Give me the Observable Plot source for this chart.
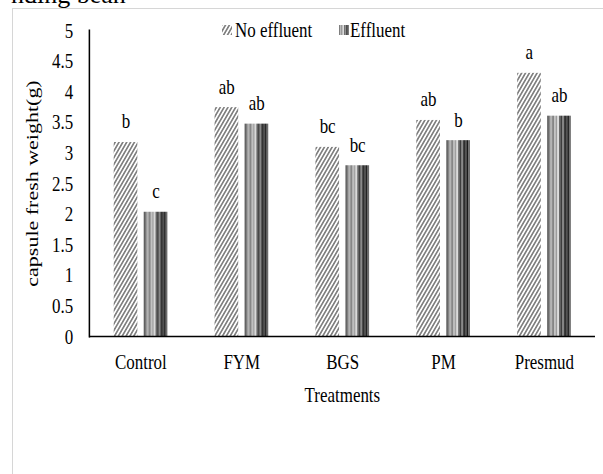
<!DOCTYPE html>
<html>
<head>
<meta charset="utf-8">
<script src="https://cdn.jsdelivr.net/npm/d3@7"></script>
<script src="https://cdn.jsdelivr.net/npm/@observablehq/plot@0.6"></script>
<style>
  html, body { margin: 0; padding: 0; background: #fff; overflow: hidden; }
  #wrap { position: relative; width: 603px; height: 474px; overflow: hidden; background: #fff; }
  #frame { position: absolute; left: 12px; top: 8px; width: 800px; height: 700px; border: 1.5px solid #d6d6d6; box-sizing: border-box; }
  #topcut { position: absolute; left: 0; top: 0; }
  #inner { position: absolute; left: 0; top: 0; height: 474px; transform-origin: 0 0; }
  #chart { position: absolute; left: 0; top: 0; }
  #legend { position: absolute; left: 0; top: 0; }
</style>
</head>
<body>
<div id="wrap">
  <div id="frame"></div>
  <svg id="topcut" width="603" height="20"><text x="11" y="3" font-family="'Liberation Serif', serif" font-size="26" fill="#000">nding bean</text></svg>
  <div id="inner">
    <div id="chart"></div>
    <svg id="legend" height="50"></svg>
  </div>
</div>
<script>
// ---- data ----
const categories = ["Control", "FYM", "BGS", "PM", "Presmud"];
const noEffluent = [3.17, 3.74, 3.09, 3.53, 4.30];
const effluent = [2.03, 3.47, 2.79, 3.20, 3.60];
const noEffluentLetters = ["b", "ab", "bc", "ab", "a"];
const effluentLetters = ["c", "ab", "bc", "b", "ab"];
const yTicks = [0, 0.5, 1, 1.5, 2, 2.5, 3, 3.5, 4, 4.5, 5];
const seriesNames = ["No effluent", "Effluent"];

const noEffRows = categories.map((c, i) => ({category: c, series: seriesNames[0], value: noEffluent[i], letter: noEffluentLetters[i]}));
const effRows = categories.map((c, i) => ({category: c, series: seriesNames[1], value: effluent[i], letter: effluentLetters[i]}));

// ---- layout (the reference is horizontally condensed) ----
const s = 0.77;
const W = 603 / s;
const mL = 89 / s, mR = (603 - 595) / s;
const band = (W - mL - mR) / categories.length;
const bw = 24 / s, gap = 6 / s;
const side = (band - 2 * bw - gap) / 2;
const off = (bw + gap) / 2;

document.getElementById("inner").style.width = W + "px";
document.getElementById("inner").style.transform = `scaleX(${s})`;

const font = "'Liberation Serif', 'Times New Roman', serif";

const chart = Plot.plot({
  width: W,
  height: 474,
  marginTop: 30,
  marginBottom: 138,
  marginLeft: mL,
  marginRight: mR,
  style: {fontFamily: font, fontSize: "22px", color: "#000", background: "transparent", overflow: "visible"},
  x: {domain: categories, padding: 0, label: "Treatments", labelAnchor: "center", labelOffset: 66, tickSize: 0, tickPadding: 17},
  y: {domain: [0, 5], ticks: yTicks, tickFormat: d => String(d), tickSize: 0, tickPadding: 21,
      label: "capsule fresh weight(g)", labelAnchor: "center", labelOffset: 82, labelArrow: "none"},
  marks: [
    Plot.barY(noEffRows, {x: "category", y: "value", fill: "url(#hatchNo)", insetLeft: side, insetRight: side + bw + gap}),
    Plot.barY(effRows, {x: "category", y: "value", fill: "url(#stripesEff)", insetLeft: side + bw + gap, insetRight: side}),
    Plot.text(noEffRows, {x: "category", y: "value", text: "letter", dx: -off, dy: -14, lineAnchor: "bottom", fill: "#000"}),
    Plot.text(effRows, {x: "category", y: "value", text: "letter", dx: off, dy: -14, lineAnchor: "bottom", fill: "#000"}),
    Plot.ruleY([0], {stroke: "#000", strokeWidth: 1.6}),
    Plot.frame({anchor: "left", stroke: "#000", strokeWidth: 2})
  ]
});
document.getElementById("chart").appendChild(chart);

// ---- fill patterns ----
const svg = d3.select(chart.tagName.toLowerCase() === "svg" ? chart : chart.querySelector("svg"));
const defs = svg.insert("defs", ":first-child");
const hatch = defs.append("pattern")
  .attr("id", "hatchNo").attr("patternUnits", "userSpaceOnUse")
  .attr("width", 4).attr("height", 4).attr("patternTransform", "rotate(37)");
hatch.append("rect").attr("width", 4).attr("height", 4).attr("fill", "#fff");
hatch.append("line").attr("x1", 1).attr("x2", 1).attr("y1", 0).attr("y2", 4)
  .attr("stroke", "#3c3c3c").attr("stroke-width", 1.3);

const stripeColors = ["#5a5a5a", "#8c8c8c", "#b4b4b4", "#7a7a7a", "#c8c8c8", "#9a9a9a", "#dcdcdc",
                      "#6a6a6a", "#3a3a3a", "#8a8a8a", "#262626", "#555555", "#1a1a1a", "#6a6a6a"];
const stripes = defs.append("pattern")
  .attr("id", "stripesEff").attr("patternUnits", "objectBoundingBox")
  .attr("patternContentUnits", "objectBoundingBox").attr("width", 1).attr("height", 1);
stripeColors.forEach((c, i) => {
  stripes.append("rect").attr("x", i / stripeColors.length).attr("y", 0)
    .attr("width", 1 / stripeColors.length + 0.01).attr("height", 1).attr("fill", c);
});

// ---- legend (overlay at the top of the plot area) ----
const leg = d3.select("#legend").attr("width", W);
const legendItems = [
  {name: seriesNames[0], fill: "url(#hatchNo)", sx: 222 / s, tx: 235 / s},
  {name: seriesNames[1], fill: "url(#stripesEff)", sx: 339 / s, tx: 350 / s}
];
legendItems.forEach(it => {
  leg.append("rect").attr("x", it.sx).attr("y", 25).attr("width", 10 / s).attr("height", 10).attr("fill", it.fill);
  leg.append("text").attr("x", it.tx).attr("y", 37).attr("font-family", font).attr("font-size", 22)
    .attr("fill", "#000").text(it.name);
});
</script>
</body>
</html>
